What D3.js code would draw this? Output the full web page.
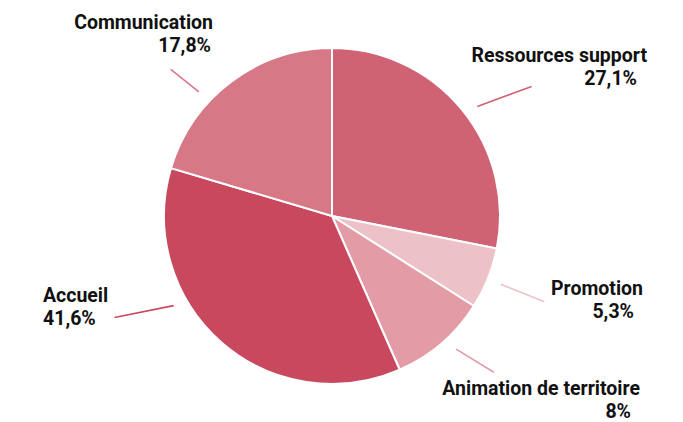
<!DOCTYPE html>
<html lang="fr">
<head>
    <meta charset="UTF-8">
    <title>Répartition</title>
    <style>
        body { margin: 0; background: #fff; }
        .label text { font-family: Roboto, sans-serif; font-weight: 700; font-size: 19.5px; fill: #111; }
    </style>
</head>
<body>
    <div id="chart"></div>
    <script src="https://d3js.org/d3.v7.min.js"></script>
    <script>
        const categories = ["Ressources support", "Promotion", "Animation de territoire", "Accueil", "Communication"];
        // slice sizes as drawn in the picture
        const sliceValues = [28.1, 5.9, 9.4, 36.2, 20.4];
        // shares written in the labels
        const shareLabels = ["27,1%", "5,3%", "8%", "41,6%", "17,8%"];
        const colors = ["#d06373", "#edc1c8", "#e39ba6", "#c8485e", "#d77886"];

        const width = 683, height = 422;
        const cx = 332, cy = 216, radius = 168;

        // label placement: leader line angles (deg) / end radius, text anchor offset from centre
        const labelLayout = [
            {a0: 53, a1: 57, r1: 238, dx: 315, dy: -154, anchor: "end", shift: -10},
            {a0: 112, a1: 112, r1: 229, dx: 311, dy: 79, anchor: "end", shift: -9},
            {a0: 137, a1: 134, r1: 225, dx: 308, dy: 179, anchor: "end", shift: -9},
            {a0: 240.5, a1: 245, r1: 240, dx: -289, dy: 86, anchor: "start", shift: 0},
            {a0: 313, a1: 312.3, r1: 218, dx: -119, dy: -187, anchor: "end", shift: -2}
        ];

        const svg = d3.select("#chart").append("svg")
            .attr("width", width)
            .attr("height", height);

        const g = svg.append("g").attr("transform", `translate(${cx},${cy})`);

        const pie = d3.pie().sort(null).value(d => d);
        const arcs = pie(sliceValues);
        const arc = d3.arc().innerRadius(0).outerRadius(radius);

        g.append("g")
            .selectAll("path")
            .data(arcs)
            .join("path")
            .attr("d", arc)
            .attr("fill", (d, i) => colors[i])
            .attr("stroke", "#fff")
            .attr("stroke-width", 2);

        const polar = (deg, r) => {
            const a = deg * Math.PI / 180;
            return [Math.sin(a) * r, -Math.cos(a) * r];
        };

        g.append("g")
            .selectAll("line")
            .data(labelLayout)
            .join("line")
            .attr("x1", d => polar(d.a0, 182)[0])
            .attr("y1", d => polar(d.a0, 182)[1])
            .attr("x2", d => polar(d.a1, d.r1)[0])
            .attr("y2", d => polar(d.a1, d.r1)[1])
            .attr("stroke", (d, i) => colors[i])
            .attr("stroke-width", 1.6);

        const labels = g.append("g").attr("class", "label")
            .selectAll("g")
            .data(labelLayout)
            .join("g")
            .attr("text-anchor", d => d.anchor);

        labels.append("text")
            .attr("x", d => d.dx)
            .attr("y", d => d.dy)
            .text((d, i) => categories[i]);

        labels.append("text")
            .attr("x", d => d.dx + d.shift)
            .attr("y", d => d.dy + 23)
            .text((d, i) => shareLabels[i]);
    </script>
</body>
</html>
